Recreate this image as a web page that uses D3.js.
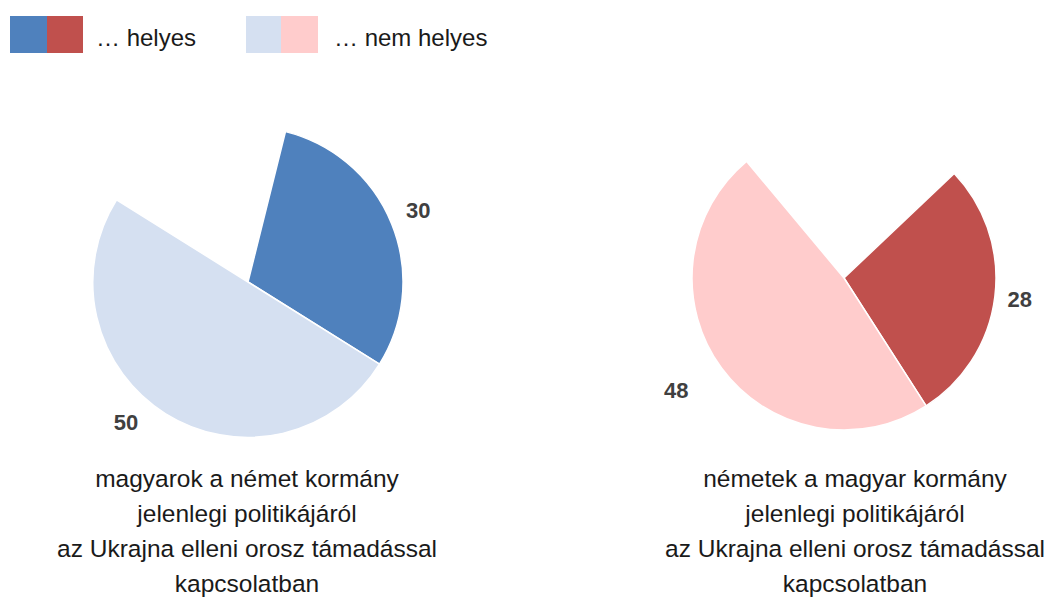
<!DOCTYPE html>
<html>
<head>
<meta charset="utf-8">
<script src="https://cdn.jsdelivr.net/npm/d3@7"></script>
<style>
  html, body { margin: 0; padding: 0; background: #fff; }
  svg { display: block; }
</style>
</head>
<body>
<svg id="chart" width="1049" height="601"></svg>
<script>
// ---- data ----
const groups = ["magyarok", "németek"];
const helyesValues = [30, 28];
const nemHelyesValues = [50, 48];
const legendLabels = ["… helyes", "… nem helyes"];
const titleLines = [
  ["magyarok a német kormány", "jelenlegi politikájáról", "az Ukrajna elleni orosz támadással", "kapcsolatban"],
  ["németek a magyar kormány", "jelenlegi politikájáról", "az Ukrajna elleni orosz támadással", "kapcsolatban"]
];

// ---- styles / layout ----
const darkColors = ["#4F81BD", "#C0504D"];
const lightColors = ["#D5E0F1", "#FFCCCC"];
const layout = [
  { cx: 248, cy: 282, r: 155, startDeg: 14,   titleX: 247, labelDist: [185, 186], labelNudgeDeg: [-1, 9] },
  { cx: 844, cy: 278, r: 152, startDeg: 46.5, titleX: 855, labelDist: [177, 202], labelNudgeDeg: [0, 2.5] }
];
const titleBaselines = [487, 522, 557, 592];

const svg = d3.select("#chart");
const rad = d => d * Math.PI / 180;

// ---- legend ----
const legend = svg.append("g");
const legendItems = [
  { x: 10, w: [37, 36], colors: darkColors, textX: 96, label: legendLabels[0] },
  { x: 246, w: [35, 37], colors: lightColors, textX: 334, label: legendLabels[1] }
];
legendItems.forEach(it => {
  legend.append("rect").attr("x", it.x).attr("y", 16).attr("width", it.w[0]).attr("height", 37).attr("fill", it.colors[0]);
  legend.append("rect").attr("x", it.x + it.w[0]).attr("y", 16).attr("width", it.w[1]).attr("height", 37).attr("fill", it.colors[1]);
  legend.append("text").attr("x", it.textX).attr("y", 46)
    .attr("font-family", "'Liberation Sans', Arial, sans-serif")
    .attr("font-size", 24).attr("fill", "#1a1a1a")
    .text(it.label);
});

// ---- pies ----
groups.forEach((g, i) => {
  const L = layout[i];
  const vals = [helyesValues[i], nemHelyesValues[i]];
  const total = d3.sum(vals);
  const start = rad(L.startDeg);
  const pie = d3.pie().sort(null).value(d => d)
    .startAngle(start).endAngle(start + 2 * Math.PI * total / 100);
  const arcs = pie(vals);
  const arc = d3.arc().innerRadius(0).outerRadius(L.r);
  const colors = [darkColors[i], lightColors[i]];

  const gp = svg.append("g").attr("transform", `translate(${L.cx},${L.cy})`);
  gp.selectAll("path").data(arcs).enter().append("path")
    .attr("d", arc)
    .attr("fill", (d, j) => colors[j])
    .attr("stroke", "#fff").attr("stroke-width", 1.5).attr("stroke-linejoin", "round");

  gp.selectAll("text.lbl").data(arcs).enter().append("text")
    .attr("class", "lbl")
    .each(function (d, j) {
      const mid = (d.startAngle + d.endAngle) / 2 + rad(L.labelNudgeDeg[j]);
      const dist = L.labelDist[j];
      const la = d3.arc().innerRadius(dist).outerRadius(dist)
        .startAngle(mid).endAngle(mid);
      const [x, y] = la.centroid();
      d3.select(this).attr("x", x).attr("y", y);
    })
    .attr("dy", "0.36em")
    .attr("text-anchor", "middle")
    .attr("font-family", "'Liberation Sans', Arial, sans-serif")
    .attr("font-weight", "bold").attr("font-size", 22).attr("fill", "#404040")
    .text(d => d.data);

  // title
  const t = svg.append("text")
    .attr("text-anchor", "middle")
    .attr("font-family", "'Liberation Sans', Arial, sans-serif")
    .attr("font-size", 24.5).attr("fill", "#1a1a1a");
  titleLines[i].forEach((line, k) => {
    t.append("tspan").attr("x", L.titleX).attr("y", titleBaselines[k]).text(line);
  });
});
</script>
</body>
</html>
